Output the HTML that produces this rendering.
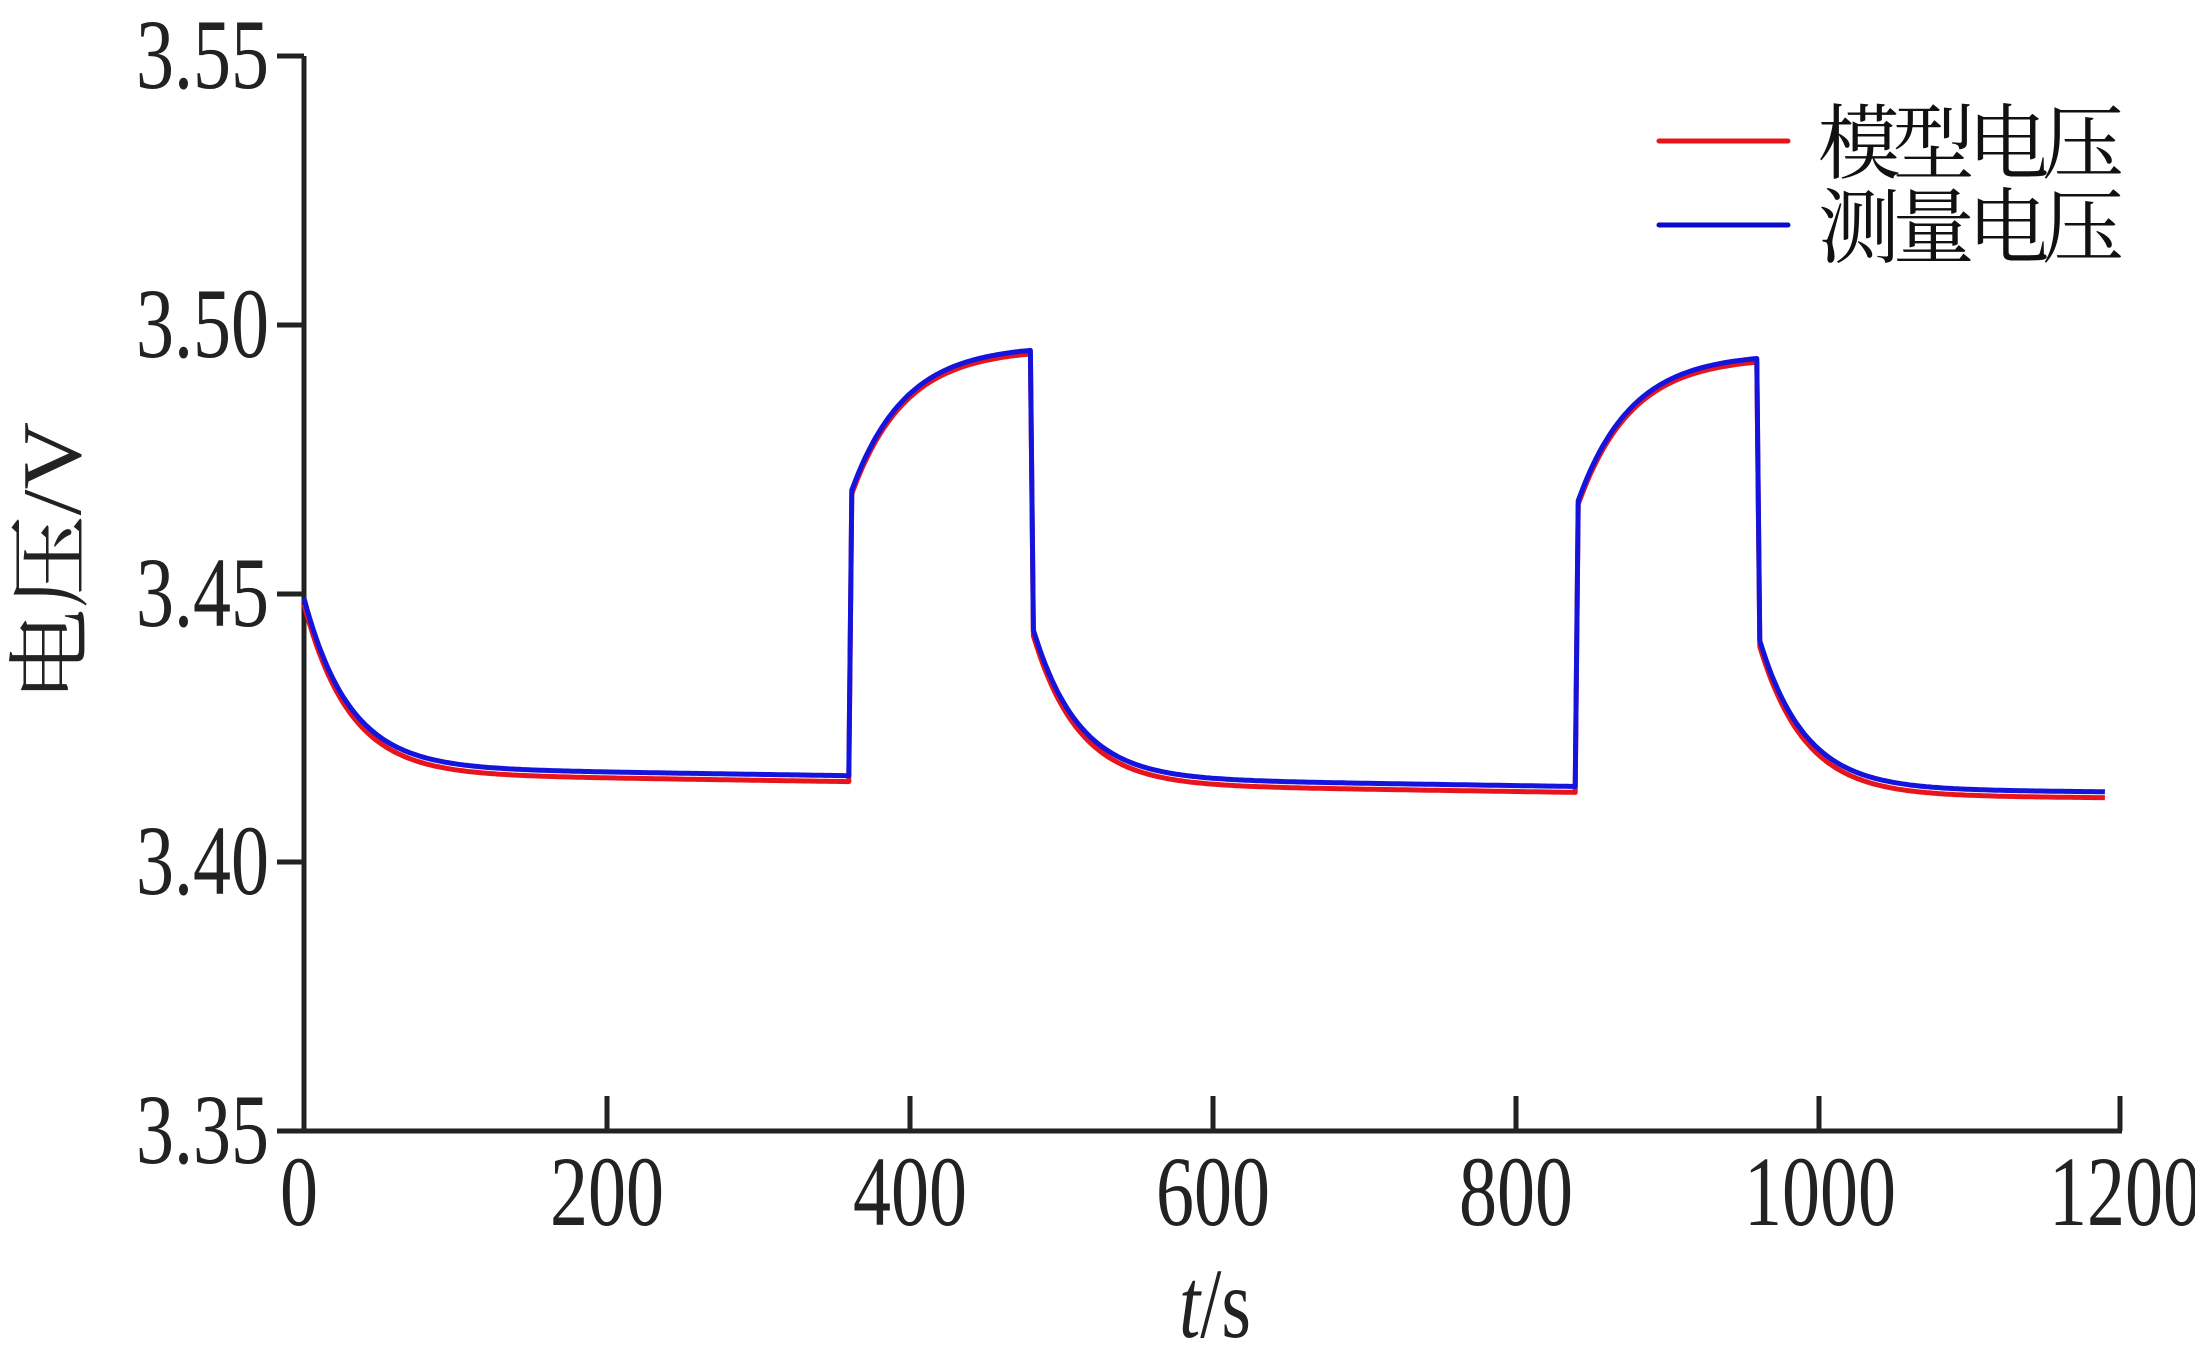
<!DOCTYPE html>
<html><head><meta charset="utf-8"><style>html,body{margin:0;padding:0;background:#fff}svg{display:block}</style></head>
<body>
<svg id="s" width="2195" height="1360" viewBox="0 0 2195 1360" xmlns="http://www.w3.org/2000/svg">
<g stroke="#222" stroke-width="5" fill="none">
<line x1="304" y1="56" x2="304" y2="1133"/>
<line x1="302" y1="1131" x2="2122" y2="1131"/>
<line x1="277" y1="56" x2="304" y2="56"/>
<line x1="277" y1="325" x2="304" y2="325"/>
<line x1="277" y1="594" x2="304" y2="594"/>
<line x1="277" y1="862" x2="304" y2="862"/>
<line x1="277" y1="1131" x2="304" y2="1131"/>
<line x1="607" y1="1096" x2="607" y2="1131"/>
<line x1="910" y1="1096" x2="910" y2="1131"/>
<line x1="1213" y1="1096" x2="1213" y2="1131"/>
<line x1="1516" y1="1096" x2="1516" y2="1131"/>
<line x1="1819" y1="1096" x2="1819" y2="1131"/>
<line x1="2120" y1="1096" x2="2120" y2="1131"/>
</g>
<g font-family="Liberation Serif, serif" font-size="100" fill="#222">
<g text-anchor="end">
<text transform="translate(269,88) scale(0.76,1)">3.55</text>
<text transform="translate(269,357) scale(0.76,1)">3.50</text>
<text transform="translate(269,626) scale(0.76,1)">3.45</text>
<text transform="translate(269,894) scale(0.76,1)">3.40</text>
<text transform="translate(269,1163) scale(0.76,1)">3.35</text>
</g>
<g text-anchor="middle">
<text transform="translate(299,1225) scale(0.76,1)">0</text>
<text transform="translate(607,1225) scale(0.76,1)">200</text>
<text transform="translate(910,1225) scale(0.76,1)">400</text>
<text transform="translate(1213,1225) scale(0.76,1)">600</text>
<text transform="translate(1516,1225) scale(0.76,1)">800</text>
<text transform="translate(1820,1225) scale(0.76,1)">1000</text>
<text transform="translate(2125,1225) scale(0.76,1)">1200</text>
<text transform="translate(1215,1337) scale(0.76,1)"><tspan font-style="italic">t</tspan>/s</text>
</g>
<text transform="translate(80,562) rotate(-90)" text-anchor="middle" font-family="Liberation Serif, Noto Serif CJK SC, serif" font-size="84" textLength="280" lengthAdjust="spacingAndGlyphs">电压/V</text>
</g>
<line x1="1659" y1="141" x2="1788" y2="141" stroke="#e8141c" stroke-width="5" stroke-linecap="round"/>
<line x1="1659" y1="225" x2="1788" y2="225" stroke="#0a0acc" stroke-width="5" stroke-linecap="round"/>
<g font-family="Noto Serif CJK SC, serif" font-size="82" fill="#111">
<text x="1818" y="172" textLength="306">模型电压</text>
<text x="1818" y="256" textLength="306">测量电压</text>
</g>
<path id="r" fill="none" stroke="#e8141c" stroke-width="5" stroke-linejoin="round"/>
<path id="b" fill="none" stroke="#1414dd" stroke-width="5" stroke-linejoin="round"/>
<script>
function X(t){return 304+t*1816/1200;}
function Y(v){return 1131-(v-3.35)*5375;}
function build(off){
 var d="";
 for(var t=0;t<=1190;t+=2){
  var v;
  if(t<=360){v=3.4165-0.0015*t/360+(3.448-3.4165)*Math.exp(-t/30);}
  else if(t<=480){var u=t-360;v=3.4955-(3.4955-3.467)*Math.exp(-u/35);}
  else if(t<=840){var u=t-480;v=3.4145-0.0015*u/360+(3.444-3.4145)*Math.exp(-u/30);}
  else if(t<=960){var u=t-840;v=3.494-(3.494-3.465)*Math.exp(-u/35);}
  else {var u=t-960;v=3.4125-0.0005*u/230+(3.442-3.4125)*Math.exp(-u/30);}
  if(t>360&&t<=480||t>840&&t<=960)v+=off*0.6;else v+=off;
  d+=(t==0?"M":"L")+X(t).toFixed(1)+","+Y(v).toFixed(1);
 }
 return d;
}
document.getElementById("r").setAttribute("d",build(0));
document.getElementById("b").setAttribute("d",build(0.0011));
</script>
</svg>
</body></html>
